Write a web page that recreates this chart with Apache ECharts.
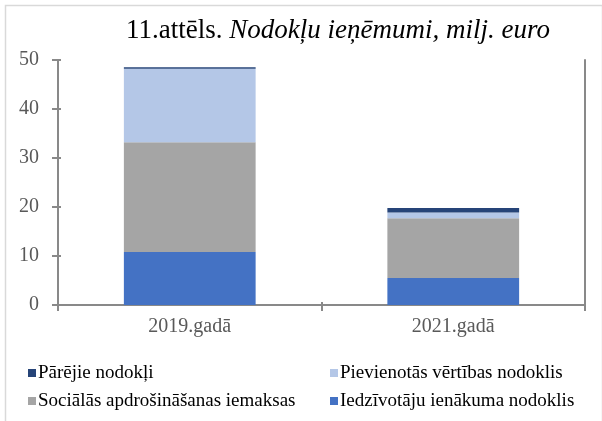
<!DOCTYPE html>
<html><head><meta charset="utf-8">
<script src="https://cdn.jsdelivr.net/npm/echarts@6/dist/echarts.min.js"></script>
<style>html,body{margin:0;padding:0;background:#fff}#c{width:602px;height:421px}</style>
</head><body><div id="c"></div>
<script>
const categories = ['2019.gadā', '2021.gadā'];
const iedzivotaju = [10.8, 5.5];
const socialas = [22.4, 12.2];
const pievienotas = [15.0, 1.2];
const parejie = [0.3, 0.9];
const yTicks = [0, 10, 20, 30, 40, 50];

const font = '"Liberation Serif", "Times New Roman", serif';
const chart = echarts.init(document.getElementById('c'), null, {renderer: 'canvas'});
const bw = '50%';
const axisGray = '#898989';
const legendText = {fontFamily: font, fontSize: 19, color: '#000', fontWeight: 'normal', lineHeight: 20, padding: [0, 0, 0, -3]};
const yMin = yTicks[0], yMax = yTicks[yTicks.length - 1];
chart.setOption({
  animation: false,
  backgroundColor: '#fff',
  title: {
    text: '{a|11.attēls. }{b|Nodokļu ieņēmumi, milj. euro}',
    left: 333, top: 12, textAlign: 'center',
    textStyle: {fontWeight: 'normal', rich: {
      a: {fontFamily: font, fontSize: 27, fontWeight: 'normal', color: '#000'},
      b: {fontFamily: font, fontSize: 27, fontWeight: 'normal', fontStyle: 'italic', color: '#000'}
    }}
  },
  grid: {left: 58, right: 17, top: 60, bottom: 116},
  xAxis: [{
    type: 'category', data: categories,
    axisLine: {lineStyle: {color: axisGray, width: 2}},
    axisTick: {show: true, length: 6, lineStyle: {color: axisGray, width: 2}},
    axisLabel: {fontFamily: font, fontSize: 20, color: '#595959', margin: 12}
  }, {
    type: 'category', data: categories, position: 'top',
    axisLine: {lineStyle: {color: axisGray, width: 2}},
    axisTick: {show: false}, axisLabel: {show: false}
  }, {
    type: 'category', data: categories, position: 'bottom', offset: 0,
    axisLine: {show: false},
    axisTick: {show: true, inside: true, length: 3, lineStyle: {color: axisGray, width: 2}},
    axisLabel: {show: false}
  }],
  yAxis: [{
    type: 'value', min: yMin, max: yMax, interval: 10, position: 'left',
    axisLine: {show: true, lineStyle: {color: axisGray, width: 2}},
    axisTick: {show: true, length: 6, lineStyle: {color: axisGray, width: 2}},
    splitLine: {show: false},
    axisLabel: {fontFamily: font, fontSize: 20, color: '#595959', margin: 19}
  }, {
    type: 'value', min: yMin, max: yMax, interval: 10, position: 'right',
    axisLine: {show: true, lineStyle: {color: axisGray, width: 2}},
    axisTick: {show: false}, splitLine: {show: false}, axisLabel: {show: false}
  }, {
    type: 'value', min: yMin, max: yMax, interval: 10, position: 'left', offset: 0,
    axisLine: {show: false},
    axisTick: {show: true, inside: true, length: 3, lineStyle: {color: axisGray, width: 2}},
    splitLine: {show: false}, axisLabel: {show: false}
  }],
  legend: [{
    orient: 'vertical', left: 28, top: 363, padding: 0, itemWidth: 8, itemHeight: 8, itemGap: 8, icon: 'rect',
    textStyle: legendText,
    data: ['Pārējie nodokļi', 'Sociālās apdrošināšanas iemaksas']
  }, {
    orient: 'vertical', left: 330, top: 363, padding: 0, itemWidth: 8, itemHeight: 8, itemGap: 8, icon: 'rect',
    textStyle: legendText,
    data: ['Pievienotās vērtības nodoklis', 'Iedzīvotāju ienākuma nodoklis']
  }],
  series: [
    {name: 'Iedzīvotāju ienākuma nodoklis', type: 'bar', stack: 's', barWidth: bw, data: iedzivotaju, itemStyle: {color: '#4472C4'}},
    {name: 'Sociālās apdrošināšanas iemaksas', type: 'bar', stack: 's', barWidth: bw, data: socialas, itemStyle: {color: '#A5A5A5'}},
    {name: 'Pievienotās vērtības nodoklis', type: 'bar', stack: 's', barWidth: bw, data: pievienotas, itemStyle: {color: '#B4C7E7'}},
    {name: 'Pārējie nodokļi', type: 'bar', stack: 's', barWidth: bw, data: parejie, itemStyle: {color: '#264478'}}
  ],
  graphic: [{
    type: 'rect', left: 3, top: 3, shape: {width: 597, height: 417},
    style: {fill: 'none', stroke: '#d9d9d9', lineWidth: 1.5}, silent: true
  }]
});
</script></body></html>
